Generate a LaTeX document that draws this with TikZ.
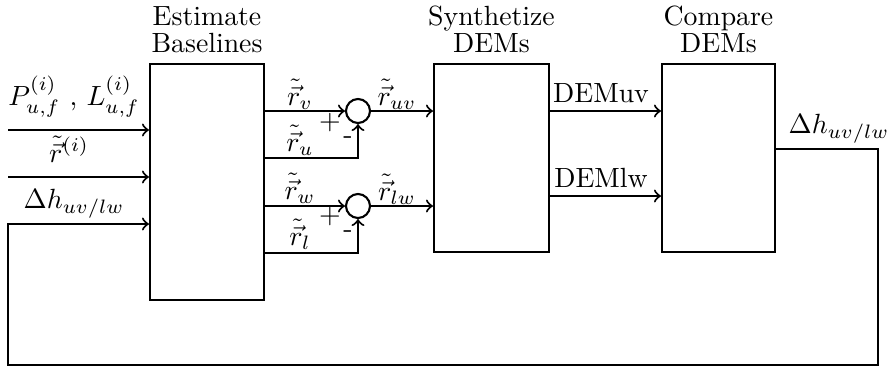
\documentclass[tikz,border=0pt]{standalone}
\usepackage{amsmath}
\begin{document}
\begin{tikzpicture}[x=0.36pt,y=-0.36pt, line width=0.75pt,
  blk/.style={draw, rectangle, inner sep=0pt},
  sumc/.style={draw, circle, minimum size=8.64pt, inner sep=0pt},
  lbl/.style={anchor=base, inner sep=0pt},
  sgn/.style={anchor=center, inner sep=0pt},
  ttl/.style={anchor=south, align=center, inner sep=0pt, font=\fontsize{10}{9.7}\selectfont},
  conn/.style={->}]
\useasboundingbox (0,0) rectangle (893,372);
% blocks
\node[blk, minimum width=41.04pt, minimum height=84.96pt] (est) at (207,182) {};
\node[blk, minimum width=41.4pt, minimum height=67.68pt] (syn) at (491.5,158) {};
\node[blk, minimum width=40.68pt, minimum height=67.68pt] (cmp) at (718.5,158) {};
% titles
\node[ttl] (t1) at (207,54) {Estimate\\Baselines};
\node[ttl] (t2) at (491.5,54) {Synthetize\\DEMs};
\node[ttl] (t3) at (718.5,54) {Compare\\DEMs};
% summing junctions
\node[sumc] (s1) at (358,111) {};
\node[sumc] (s2) at (358,206) {};
% coordinates
\coordinate (i1) at (8,130);
\coordinate (i2) at (8,177);
\coordinate (u1) at (358,158);
\coordinate (u2) at (358,253);
\coordinate (d1) at (0,111);
\coordinate (d2) at (0,196);
\coordinate (c1) at (878,149);
\coordinate (c2) at (878,365);
\coordinate (c3) at (8,365);
\coordinate (c4) at (8,224);
% inputs
\draw[conn] (i1) -- (i1 -| est.west);
\draw[conn] (i2) -- (i2 -| est.west);
% baselines to junctions
\draw[conn] (est.east |- s1) -- (s1);
\draw[conn] (est.east |- u1) -- (u1) -- (s1);
\draw[conn] (est.east |- s2) -- (s2);
\draw[conn] (est.east |- u2) -- (u2) -- (s2);
\draw[conn] (s1) -- (s1 -| syn.west);
\draw[conn] (s2) -- (s2 -| syn.west);
% DEMs
\draw[conn] (syn.east |- d1) -- (d1 -| cmp.west);
\draw[conn] (syn.east |- d2) -- (d2 -| cmp.west);
% feedback loop
\draw[conn] (cmp.east |- c1) -- (c1) -- (c2) -- (c3) -- (c4) -- (c4 -| est.west);
% labels
\node[lbl] (lP) at (74,105) {$P^{(i)}_{u,f}$ , $L^{(i)}_{u,f}$};
\node[lbl] (lr) at (69,162) {$\tilde{\vec{r}}{}^{(i)}$};
\node[lbl] (ldh) at (74,208) {$\Delta h_{uv/lw}$};
\node[lbl] (lrv) at (300,105) {$\tilde{\vec{r}}_v$};
\node[lbl] (lru) at (300,151) {$\tilde{\vec{r}}_u$};
\node[lbl] (lrw) at (300,199) {$\tilde{\vec{r}}_w$};
\node[lbl] (lrl) at (300,245) {$\tilde{\vec{r}}_l$};
\node[lbl] (lruv) at (397,105) {$\tilde{\vec{r}}_{uv}$};
\node[lbl] (lrlw) at (397,200) {$\tilde{\vec{r}}_{lw}$};
\node[sgn] (p1) at (330,123) {$+$};
\node[sgn] (m1) at (348,140) {-};
\node[sgn] (p2) at (330,217) {$+$};
\node[sgn] (m2) at (348,234) {-};
\node[lbl] (ldu) at (601,102) {DEMuv};
\node[lbl] (ldl) at (601,187) {DEMlw};
\node[lbl] (lout) at (839,133) {$\Delta h_{uv/lw}$};
\end{tikzpicture}
\end{document}
